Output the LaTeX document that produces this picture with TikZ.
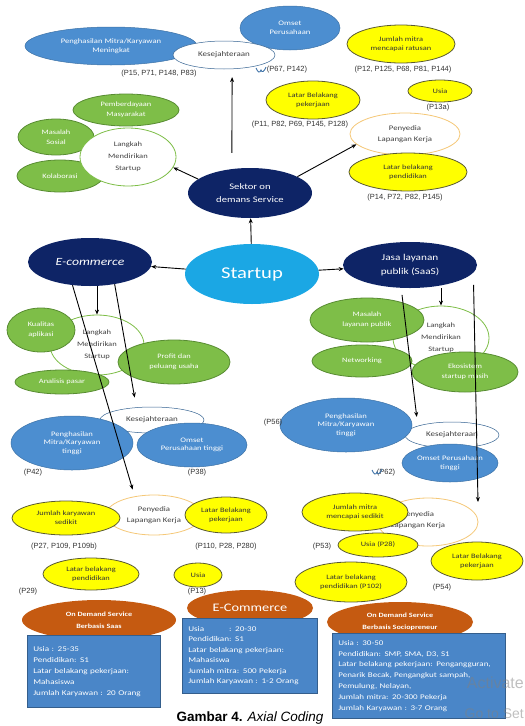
\documentclass[tikz,border=0pt]{standalone}
\usepackage{fontspec}
\setmainfont{Carlito}[FakeStretch=1.25]
\newfontfamily\labfont{Liberation Sans}
\usetikzlibrary{shapes.geometric,arrows.meta}

\definecolor{ellblue}{RGB}{76,142,208}
\definecolor{ellnavy}{RGB}{14,36,102}
\definecolor{ellcyan}{RGB}{27,167,228}
\definecolor{ellgreen}{RGB}{126,190,72}
\definecolor{greenline}{RGB}{88,140,50}
\definecolor{ellyellow}{RGB}{255,255,0}
\definecolor{yelline}{RGB}{90,90,50}
\definecolor{ellorange}{RGB}{197,90,17}
\definecolor{boxblue}{RGB}{74,134,200}
\definecolor{penyline}{RGB}{245,200,120}

\begin{document}
\begin{tikzpicture}[x=1pt,y=-1pt,
  ell/.style={ellipse,inner sep=0pt,align=center},
  sz/.style 2 args={minimum width=#1pt,minimum height=#2pt},
  blueell/.style={ell,fill=ellblue,draw=ellblue!80!black,line width=0.5pt,text=white,font=\fontsize{6.9}{8.5}\selectfont},
  greenell/.style={ell,fill=ellgreen,draw=greenline,line width=0.8pt,text=white,font=\fontsize{6.7}{10}\selectfont},
  yellell/.style={ell,fill=ellyellow,draw=yelline,line width=0.8pt,text=black!80,font=\fontsize{6.7}{9}\selectfont},
  navyell/.style={ell,fill=ellnavy,text=white,font=\fontsize{8.5}{13}\selectfont},
  kesell/.style={ell,fill=white,draw=ellblue!70!black,line width=0.5pt,text=black!75,font=\fontsize{7.2}{8}\selectfont},
  langell/.style={ell,fill=white,draw=ellgreen,line width=0.8pt,text=black!75,font=\fontsize{6.8}{12}\selectfont},
  penyell/.style={ell,fill=white,draw=penyline,line width=0.8pt,text=black!75,font=\fontsize{7}{11}\selectfont},
  orangeell/.style={ell,fill=ellorange,text=white,font=\bfseries\fontsize{6.5}{12}\selectfont},
  infobox/.style={rectangle,fill=boxblue,draw=boxblue!70!black,line width=0.6pt,text=white,align=left,anchor=north west,inner xsep=6pt,inner ysep=0pt,font=\fontsize{7.3}{11}\selectfont},
  plabel/.style={font=\labfont\fontsize{7.5}{9}\selectfont,text=black!80},
  arr/.style={-{Stealth[length=5pt,width=4pt]},line width=0.9pt},
  ]
\useasboundingbox (0,0) rectangle (525,726);

% sektor on demand: hasil
\node[blueell,sz={172}{38}] (pengA) at (111,46) {Penghasilan Mitra/Karyawan\\Meningkat};
\node[blueell,sz={100}{44}] (omsetA) at (290,28) {Omset\\Perusahaan};
\node[kesell,sz={102}{28}] (kesA) at (224,55) {Kesejahteraan};
\node[plabel] (lbA1) at (159,74) {(P15, P71, P148, P83)};
\node[plabel] (lbA2) at (287,70) {(P67, P142)};
\draw[ellblue!80!black,line width=0.9pt] (256,68) .. controls (258,73) and (260,73) .. (261,70) .. controls (262,73) and (264,72) .. (266,67);

\node[yellell,sz={108}{38}] (jmlA) at (401,44) {Jumlah mitra\\mencapai ratusan};
\node[plabel] (lbA3) at (403,70) {(P12, P125, P68, P81, P144)};
\node[yellell,sz={64}{22}] (usiaA) at (440,91) {Usia};
\node[plabel] (lbA4) at (438,108) {(P13a)};
\node[yellell,sz={94}{38}] (latarA) at (313,100) {Latar Belakang\\pekerjaan};
\node[plabel] (lbA5) at (300,125) {(P11, P82, P69, P145, P128)};
\node[penyell,sz={110}{42}] (penyA) at (405,134) {Penyedia\\Lapangan Kerja};
\node[yellell,sz={118}{38}] (pendA) at (408,172) {Latar belakang\\pendidikan};
\node[plabel] (lbA6) at (405,198) {(P14, P72, P82, P145)};

\node[greenell,sz={106}{32}] (pembA) at (126,110) {Pemberdayaan\\Masyarakat};
\node[greenell,sz={76}{36}] (masA) at (56,137) {Masalah\\Sosial};
\node[greenell,sz={86}{32}] (kolA) at (60,176) {Kolaborasi};
\node[langell,sz={96}{58}] (langA) at (128,157) {Langkah\\Mendirikan\\Startup};

% pusat
\node[navyell,sz={124}{50}] (sektor) at (250,193) {Sektor on\\demans Service};
\node[ell,fill=ellcyan,text=white,sz={134}{60},font=\fontsize{16.5}{18}\selectfont] (startup) at (252,274) {Startup};
\node[navyell,sz={124}{48},font=\itshape\fontsize{11}{13}\selectfont] (ecom) at (90,262) {E-commerce};
\node[navyell,sz={134}{46},font=\fontsize{9}{14}\selectfont] (jasa) at (410,265) {Jasa layanan\\publik (SaaS)};

% e-commerce
\node[langell,sz={94}{60}] (langB) at (97,345) {Langkah\\Mendirikan\\Startup};
\node[greenell,sz={68}{44}] (kualB) at (41,330) {Kualitas\\aplikasi};
\node[greenell,sz={112}{44}] (profB) at (174,362) {Profit dan\\peluang usaha};
\node[greenell,sz={94}{24}] (anaB) at (62,382) {Analisis pasar};

\node[kesell,sz={104}{26}] (kesB) at (152,420) {Kesejahteraan};
\node[blueell,sz={122}{54}] (pengB) at (72,443) {Penghasilan\\Mitra/Karyawan\\tinggi};
\node[blueell,sz={110}{44}] (omsetB) at (192,445) {Omset\\Perusahaan tinggi};
\node[plabel] (lbB1) at (33,473) {(P42)};
\node[plabel] (lbB2) at (197,473) {(P38)};

\node[penyell,sz={96}{40}] (penyB) at (154,515) {Penyedia\\Lapangan Kerja};
\node[yellell,sz={108}{34}] (jmlB) at (66,518) {Jumlah karyawan\\sedikit};
\node[yellell,sz={82}{36}] (latarB) at (226,515) {Latar Belakang\\pekerjaan};
\node[plabel] (lbB3) at (64,547) {(P27, P109, P109b)};
\node[plabel] (lbB4) at (226,547) {(P110, P28, P280)};
\node[yellell,sz={96}{32}] (pendB) at (91,574) {Latar belakang\\pendidikan};
\node[yellell,sz={48}{24}] (usiaB) at (198,575) {Usia};
\node[plabel] (lbB5) at (28,592) {(P29)};
\node[plabel] (lbB6) at (197,592) {(P13)};

% jasa layanan publik
\node[langell,sz={96}{64}] (langC) at (441,338) {Langkah\\Mendirikan\\Startup};
\node[greenell,sz={114}{44}] (masC) at (367,320) {Masalah\\layanan publik};
\node[greenell,sz={100}{32}] (netC) at (362,361) {Networking};
\node[greenell,sz={106}{40}] (ekoC) at (465,372) {Ekosistem\\startup masih};

\node[kesell,sz={94}{26}] (kesC) at (452,435) {Kesejahteraan};
\node[blueell,sz={132}{54}] (pengC) at (346,425) {Penghasilan\\Mitra/Karyawan\\tinggi};
\node[blueell,sz={96}{38}] (omsetC) at (450,463) {Omset Perusahaan\\tinggi};
\node[plabel] (lbC1) at (273,423) {(P56)};
\node[plabel] (lbC2) at (386,473) {(P62)};
\draw[ellblue!80!black,line width=0.9pt] (372,470) .. controls (374,475) and (376,475) .. (377,472) .. controls (378,475) and (380,474) .. (382,469);

\node[penyell,sz={100}{48}] (penyC) at (428,522) {};
\node[text=black!75,align=center,font=\fontsize{7}{11}\selectfont] (penyCtxt) at (418,520) {Penyedia\\Lapangan Kerja};
\node[yellell,sz={106}{38}] (jmlC) at (355,512) {Jumlah mitra\\mencapai sedikit};
\node[yellell,sz={80}{24}] (usiaC) at (378,545) {Usia (P28)};
\node[plabel] (lbC3) at (322,547) {(P53)};
\node[yellell,sz={92}{38}] (latarC) at (477,561) {Latar Belakang\\pekerjaan};
\node[plabel] (lbC4) at (442,588) {(P54)};
\node[yellell,sz={112}{40}] (pendC) at (351,582) {Latar belakang\\pendidikan (P102)};

% ringkasan
\node[orangeell,sz={154}{40}] (odsA) at (99,620) {On Demand Service\\Berbasis Saas};
\node[infobox,text width=121pt,minimum height=72pt] (boxA) at (27,635) {Usia : 25-35\\Pendidikan: S1\\Latar belakang pekerjaan:\\Mahasiswa\\Jumlah Karyawan : 20 Orang};
\node[orangeell,sz={126}{36},font=\fontsize{11.5}{13}\selectfont] (odsB) at (250,608) {E-Commerce};
\node[infobox,text width=123pt,minimum height=75pt,font=\fontsize{7.3}{10.5}\selectfont] (boxB) at (182,618) {\rlap{Usia}\hphantom{Pendidikan}: 20-30\\Pendidikan: S1\\Latar belakang pekerjaan:\\Mahasiswa\\Jumlah mitra: 500 Pekerja\\Jumlah Karyawan : 1-2 Orang};
\node[orangeell,sz={146}{40}] (odsC) at (400,622) {On Demand Service\\Berbasis Sociopreneur};
\node[infobox,text width=161pt,minimum height=85pt,font=\fontsize{7.2}{10.8}\selectfont] (boxC) at (332,633) {Usia : 30-50\\Pendidikan: SMP, SMA, D3, S1\\Latar belakang pekerjaan: Pengangguran,\\Penarik Becak, Pengangkut sampah,\\Pemulung, Nelayan,\\Jumlah mitra: 20-300 Pekerja\\Jumlah Karyawan : 3-7 Orang};

% panah
\draw[arr] (startup) -- (sektor);
\draw[arr,shorten <=16pt,shorten >=8pt] (sektor.127) -- (kesA.-60);
\draw[arr] (sektor.165) -- (langA.-13);
\draw[arr] (sektor.19) -- (penyA.192);
\draw[arr] (startup) -- (ecom);
\draw[arr] (startup) -- (jasa);
\draw[arr] (ecom.south -| langB.north) -- (langB.north);
\draw[arr,shorten >=7pt] (ecom.233) -- (penyB.136);
\draw[arr,shorten >=10pt] (ecom.-42) -- (kesB.141);
\draw[arr] (jasa.south -| langC.north) -- (langC.north);
\draw[arr,shorten <=7pt,shorten >=9pt] (jasa.249) -- (kesC.165);
\draw[arr,shorten <=12pt,shorten >=20pt] (jasa.-7) -- (penyC.east);

\node[font=\labfont\fontsize{13.5}{15}\selectfont] (cap) at (250,718) {\textbf{Gambar 4.} \textit{Axial Coding}};
\node[anchor=east,text=gray,opacity=.5,inner sep=1pt,font=\labfont\fontsize{16}{16}\selectfont] (wm1) at (525,683) {Activate};
\node[anchor=east,text=gray,opacity=.5,inner sep=1pt,font=\labfont\fontsize{14}{14}\selectfont] (wm2) at (525,714) {Go to Set};
\end{tikzpicture}
\end{document}
